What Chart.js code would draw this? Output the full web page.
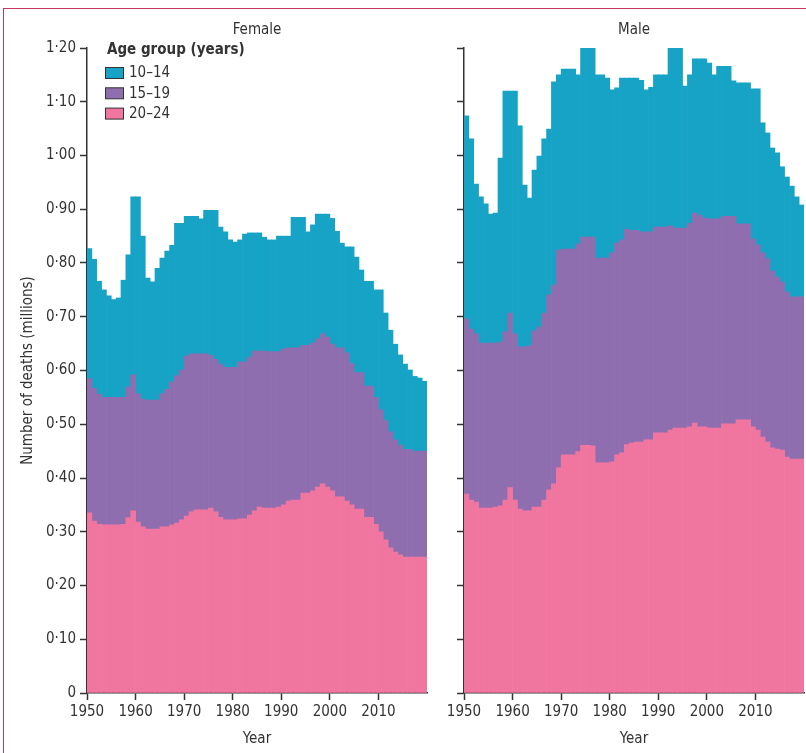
<!DOCTYPE html>
<html>
<head>
<meta charset="utf-8">
<script src="https://cdn.jsdelivr.net/npm/chart.js@4.4.1/dist/chart.umd.min.js"></script>
<style>
  html, body { margin: 0; padding: 0; background: #fff; overflow: hidden; }
  #wrap { position: relative; width: 806px; height: 753px; overflow: hidden; }
  #frame { position: absolute; left: 3px; top: 8px; width: 1000px; height: 1000px;
           border-left: 1.5px solid #c8365e; border-top: 1.5px solid #c8365e; }
  canvas { position: absolute; top: 0; }
  #cFemale { left: 0; }
  #cMale { left: 430px; }
</style>
</head>
<body>
<div id="wrap">
  <div id="frame"></div>
  <canvas id="cFemale" width="430" height="753"></canvas>
  <canvas id="cMale" width="376" height="753"></canvas>
</div>
<script>
// --- data (millions of deaths), 1950-2019 ---
const years = [
  1950, 1951, 1952, 1953, 1954, 1955, 1956, 1957, 1958, 1959,
  1960, 1961, 1962, 1963, 1964, 1965, 1966, 1967, 1968, 1969,
  1970, 1971, 1972, 1973, 1974, 1975, 1976, 1977, 1978, 1979,
  1980, 1981, 1982, 1983, 1984, 1985, 1986, 1987, 1988, 1989,
  1990, 1991, 1992, 1993, 1994, 1995, 1996, 1997, 1998, 1999,
  2000, 2001, 2002, 2003, 2004, 2005, 2006, 2007, 2008, 2009,
  2010, 2011, 2012, 2013, 2014, 2015, 2016, 2017, 2018, 2019
];
const ageGroups = ['20–24', '15–19', '10–14'];   // bottom to top of the stack
const groupColors = ['#f0759f', '#8f6eb0', '#16a3c6'];

const female20to24 = [
  0.335, 0.320, 0.314, 0.313, 0.313, 0.313, 0.313, 0.314, 0.326, 0.339,
  0.318, 0.309, 0.305, 0.305, 0.305, 0.309, 0.309, 0.313, 0.316, 0.322,
  0.329, 0.337, 0.341, 0.341, 0.341, 0.344, 0.337, 0.327, 0.322, 0.322,
  0.322, 0.324, 0.324, 0.331, 0.339, 0.346, 0.344, 0.344, 0.344, 0.346,
  0.350, 0.357, 0.359, 0.359, 0.372, 0.372, 0.376, 0.383, 0.389, 0.383,
  0.376, 0.365, 0.365, 0.357, 0.350, 0.342, 0.342, 0.327, 0.327, 0.314,
  0.300, 0.285, 0.270, 0.262, 0.257, 0.253, 0.253, 0.253, 0.253, 0.253
];
const female15to19 = [
  0.250, 0.247, 0.242, 0.237, 0.237, 0.237, 0.237, 0.236, 0.243, 0.253,
  0.239, 0.238, 0.240, 0.240, 0.240, 0.248, 0.256, 0.266, 0.274, 0.279,
  0.298, 0.294, 0.290, 0.290, 0.290, 0.284, 0.284, 0.285, 0.284, 0.284,
  0.284, 0.292, 0.292, 0.294, 0.297, 0.290, 0.292, 0.291, 0.291, 0.289,
  0.290, 0.285, 0.283, 0.283, 0.275, 0.275, 0.275, 0.276, 0.279, 0.279,
  0.273, 0.277, 0.277, 0.276, 0.263, 0.254, 0.254, 0.244, 0.244, 0.236,
  0.227, 0.222, 0.216, 0.209, 0.204, 0.200, 0.200, 0.197, 0.197, 0.197
];
const female10to14 = [
  0.242, 0.240, 0.210, 0.200, 0.189, 0.182, 0.185, 0.218, 0.246, 0.331,
  0.366, 0.303, 0.227, 0.220, 0.245, 0.252, 0.257, 0.254, 0.284, 0.273,
  0.260, 0.256, 0.256, 0.251, 0.267, 0.270, 0.277, 0.255, 0.252, 0.237,
  0.233, 0.227, 0.238, 0.231, 0.220, 0.220, 0.212, 0.208, 0.208, 0.215,
  0.210, 0.208, 0.243, 0.243, 0.238, 0.211, 0.220, 0.232, 0.223, 0.229,
  0.234, 0.217, 0.195, 0.197, 0.217, 0.215, 0.191, 0.195, 0.195, 0.200,
  0.223, 0.200, 0.189, 0.178, 0.168, 0.159, 0.148, 0.139, 0.136, 0.130
];

const male20to24 = [
  0.370, 0.359, 0.355, 0.344, 0.344, 0.344, 0.346, 0.348, 0.359, 0.382,
  0.359, 0.342, 0.339, 0.339, 0.346, 0.346, 0.359, 0.378, 0.389, 0.419,
  0.443, 0.443, 0.443, 0.449, 0.461, 0.461, 0.460, 0.428, 0.428, 0.428,
  0.430, 0.443, 0.447, 0.462, 0.465, 0.467, 0.467, 0.471, 0.471, 0.484,
  0.484, 0.484, 0.489, 0.493, 0.493, 0.493, 0.495, 0.502, 0.495, 0.495,
  0.493, 0.493, 0.493, 0.501, 0.501, 0.501, 0.508, 0.508, 0.508, 0.495,
  0.489, 0.476, 0.467, 0.456, 0.454, 0.452, 0.439, 0.435, 0.435, 0.435
];
const male15to19 = [
  0.326, 0.318, 0.313, 0.307, 0.307, 0.307, 0.305, 0.305, 0.313, 0.325,
  0.309, 0.302, 0.305, 0.307, 0.328, 0.335, 0.348, 0.363, 0.370, 0.405,
  0.383, 0.383, 0.383, 0.386, 0.387, 0.387, 0.388, 0.381, 0.381, 0.381,
  0.389, 0.394, 0.396, 0.401, 0.396, 0.394, 0.391, 0.387, 0.387, 0.383,
  0.383, 0.383, 0.380, 0.372, 0.372, 0.372, 0.379, 0.391, 0.394, 0.389,
  0.389, 0.389, 0.389, 0.386, 0.386, 0.386, 0.365, 0.365, 0.365, 0.350,
  0.345, 0.343, 0.341, 0.329, 0.320, 0.313, 0.307, 0.302, 0.302, 0.302
];
const male10to14 = [
  0.378, 0.354, 0.279, 0.272, 0.259, 0.240, 0.242, 0.342, 0.448, 0.413,
  0.452, 0.411, 0.301, 0.275, 0.299, 0.318, 0.324, 0.308, 0.378, 0.326,
  0.335, 0.335, 0.335, 0.315, 0.354, 0.354, 0.354, 0.341, 0.341, 0.335,
  0.303, 0.289, 0.301, 0.281, 0.283, 0.283, 0.282, 0.264, 0.269, 0.283,
  0.283, 0.283, 0.333, 0.337, 0.337, 0.264, 0.276, 0.287, 0.291, 0.296,
  0.290, 0.268, 0.284, 0.279, 0.279, 0.252, 0.262, 0.262, 0.262, 0.279,
  0.290, 0.242, 0.234, 0.229, 0.231, 0.214, 0.214, 0.206, 0.186, 0.171
];

const xTickYears = [1950, 1960, 1970, 1980, 1990, 2000, 2010];
const yTickValues = [0, 0.1, 0.2, 0.3, 0.4, 0.5, 0.6, 0.7, 0.8, 0.9, 1.0, 1.1, 1.2];
const yTickLabels = ['0', '0·10', '0·20', '0·30', '0·40', '0·50', '0·60',
                     '0·70', '0·80', '0·90', '1·00', '1·10', '1·20'];

// --- look ---
const fontFamily = "'DejaVu Sans Condensed', 'Liberation Sans Narrow', 'DejaVu Sans', sans-serif";
const textColor = '#333333';
const axisColor = '#333333';
const baseFont = { family: fontFamily, size: 15 };

// legend drawn inside the female plot, top-left
const ageLegend = {
    id: 'ageLegend',
    afterDraw(chart) {
        const ctx = chart.ctx;
        const a = chart.chartArea;
        ctx.save();
        ctx.textBaseline = 'middle';
        ctx.fillStyle = textColor;
        ctx.font = 'bold 15px ' + fontFamily;
        ctx.fillText('Age group (years)', a.left + 20, a.top + 2);
        const items = chart.data.datasets.slice().reverse();
        items.forEach((ds, k) => {
            const y = a.top + 19.5 + k * 20.3;
            ctx.fillStyle = ds.backgroundColor;
            ctx.fillRect(a.left + 18.5, y, 18, 11);
            ctx.strokeStyle = '#333';
            ctx.lineWidth = 1;
            ctx.strokeRect(a.left + 18.5, y, 18, 11);
            ctx.fillStyle = textColor;
            ctx.font = '15px ' + fontFamily;
            ctx.fillText(ds.label, a.left + 42, y + 6);
        });
        ctx.restore();
    }
};

function toPoints(values) {
    return values.map((v, i) => ({ x: years[i] + 0.5, y: v }));
}

function crearPanel(canvasId, titulo, series, opciones) {
    const datasets = ageGroups.map((g, k) => ({
        label: g,
        data: toPoints(series[k]),
        backgroundColor: groupColors[k],
        borderWidth: 0,
        categoryPercentage: 1,
        barPercentage: 1
    }));

    return new Chart(document.getElementById(canvasId), {
        type: 'bar',
        data: { datasets },
        options: {
            responsive: false,
            animation: false,
            layout: { padding: { left: 0, right: opciones.padRight, top: 0, bottom: 0 } },
            plugins: { legend: { display: false }, tooltip: { enabled: false } },
            scales: {
                x: {
                    type: 'linear', min: 1950, max: 2020, stacked: true, offset: false, z: 1,
                    afterBuildTicks: s => { s.ticks = xTickYears.map(v => ({ value: v })); },
                    ticks: { color: textColor, font: baseFont, padding: 3, maxRotation: 0,
                             autoSkip: false, callback: v => String(v) },
                    grid: { drawOnChartArea: false, drawTicks: true, tickLength: 7,
                            tickWidth: 1.5, tickColor: axisColor, offset: false },
                    border: { display: true, color: axisColor, width: 1.5 },
                    title: { display: true, text: 'Year', color: textColor, font: baseFont,
                             padding: { top: 0, bottom: 5 } },
                    afterFit: s => { s.height = 60; }
                },
                xTop: {
                    type: 'linear', position: 'top', min: 1950, max: 2020, offset: false,
                    grid: { display: false }, border: { display: false },
                    ticks: { display: false },
                    title: { display: true, text: titulo, color: textColor, font: baseFont,
                             padding: { top: 21, bottom: 0 } },
                    afterFit: s => { s.height = 48; }
                },
                y: {
                    min: 0, max: 1.2, stacked: true, z: 1,
                    afterBuildTicks: s => { s.ticks = yTickValues.map(v => ({ value: v })); },
                    ticks: { color: textColor, font: baseFont, padding: 4,
                             callback: (v, i) => opciones.labels ? yTickLabels[i] : '' },
                    grid: { drawOnChartArea: false, drawTicks: true, tickLength: 7,
                            tickWidth: 1.5, tickColor: axisColor },
                    border: { display: true, color: axisColor, width: 1.5 },
                    title: { display: opciones.labels, text: 'Number of deaths (millions)',
                             color: textColor, font: baseFont, padding: { top: 19, bottom: 0 } },
                    afterFit: s => { s.width = opciones.yWidth; }
                }
            }
        },
        plugins: opciones.legend ? [ageLegend] : []
    });
}

crearPanel('cFemale', 'Female', [female20to24, female15to19, female10to14],
           { labels: true, yWidth: 87, padRight: 3, legend: true });
crearPanel('cMale', 'Male', [male20to24, male15to19, male10to14],
           { labels: false, yWidth: 34, padRight: 2, legend: false });
</script>
</body>
</html>
